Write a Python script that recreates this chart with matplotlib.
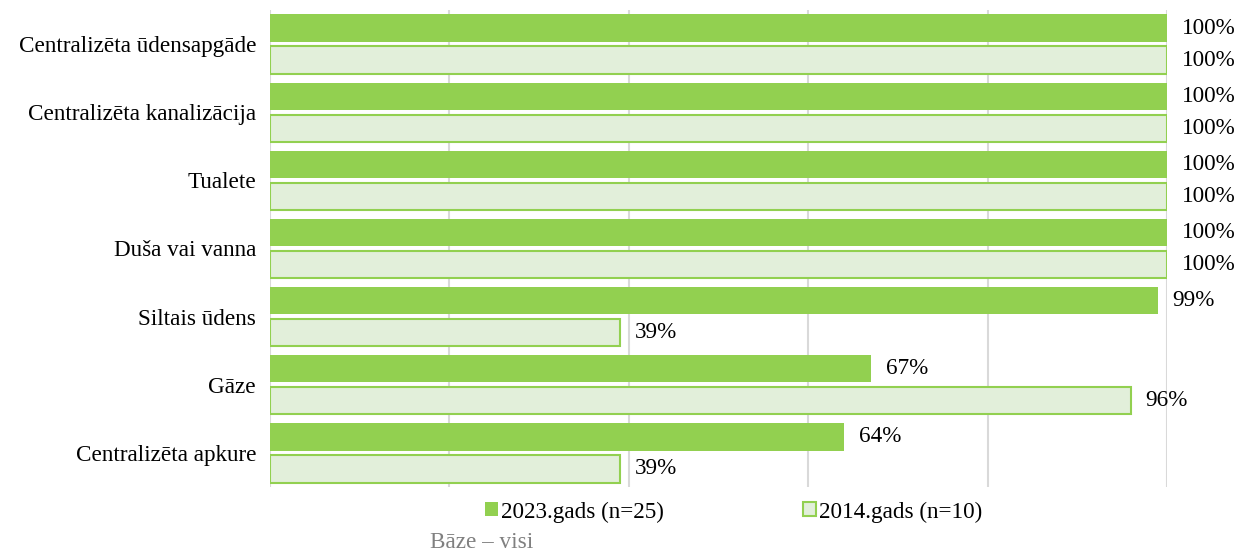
import matplotlib.pyplot as plt
from matplotlib.patches import Patch
import numpy as np

categories = ["Centralizēta ūdensapgāde", "Centralizēta kanalizācija", "Tualete",
              "Duša vai vanna", "Siltais ūdens", "Gāze", "Centralizēta apkure"]
values_2023 = [100, 100, 100, 100, 99, 67, 64]
values_2014 = [100, 100, 100, 100, 39, 96, 39]
series_labels = ["2023.gads (n=25)", "2014.gads (n=10)"]
base_text = "Bāze – visi"

plt.rcParams['font.family'] = ['Liberation Serif', 'DejaVu Serif']

DARK = '#92D050'
LIGHT = '#E2EFDA'
GRID = '#D9D9D9'
FS = 16.7

fig = plt.figure(figsize=(12.43, 5.56), dpi=100)
ax = fig.add_axes([270/1243, 1-487/556, (1167-270)/1243, (487-10)/556])

y = np.arange(len(categories))
h = 0.4
off = 0.235
b1 = ax.barh(y - off, values_2023, height=h, color=DARK, edgecolor=DARK, linewidth=0)
b2 = ax.barh(y + off, values_2014, height=h, color=LIGHT, edgecolor=DARK, linewidth=1.5)

for bars, vals in ((b1, values_2023), (b2, values_2014)):
    for rect, v in zip(bars, vals):
        ax.annotate(f"{v}%", xy=(v, rect.get_y() + rect.get_height()/2),
                    xytext=(10.5, 0), textcoords='offset points',
                    va='center', ha='left', fontsize=FS, color='black')

ax.set_xlim(0, 100)
ax.set_ylim(len(categories) - 0.5, -0.5)
ax.set_xticks([0, 20, 40, 60, 80, 100])
ax.set_xticklabels([])
ax.tick_params(axis='x', length=0)
ax.set_yticks(y)
ax.set_yticklabels(categories, fontsize=FS)
ax.tick_params(axis='y', length=0, pad=10)
ax.grid(axis='x', color=GRID, linewidth=1.5)
ax.set_axisbelow(True)
for s in ax.spines.values():
    s.set_visible(False)

handles = [Patch(facecolor=DARK, edgecolor=DARK, linewidth=0),
           Patch(facecolor=LIGHT, edgecolor=DARK, linewidth=1.5)]
fig.legend(handles, series_labels, loc='center', bbox_to_anchor=(733.5/1243, 1-512/556),
           ncol=2, frameon=False, fontsize=FS, handlelength=0.56, handleheight=0.56,
           handletextpad=0.13, columnspacing=6.0, borderpad=0, borderaxespad=0)

fig.text(430/1243, 1-543/556, base_text, fontsize=FS, color='#808080', ha='left', va='center')

fig.savefig('out.png', dpi=100)
